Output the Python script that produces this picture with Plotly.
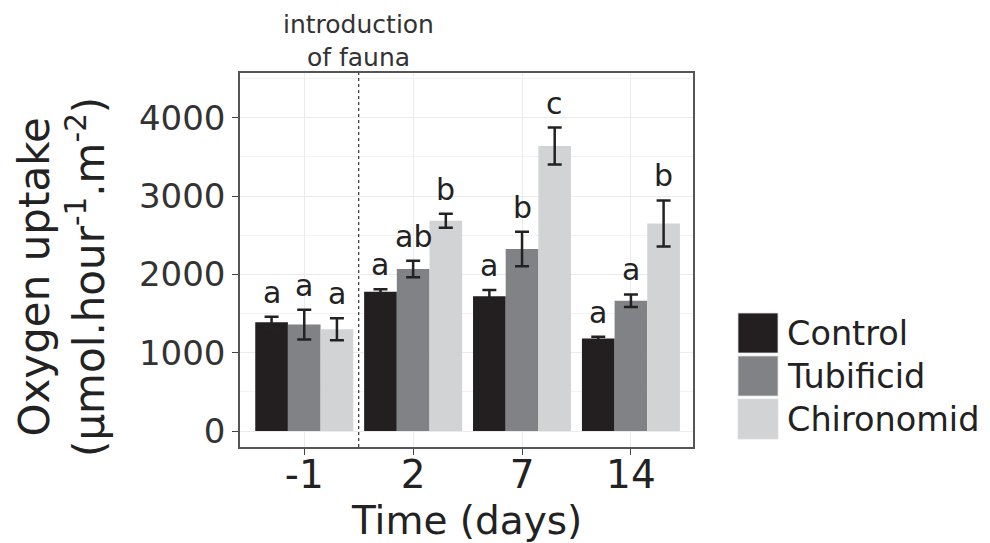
import plotly.graph_objects as go

days = ["-1", "2", "7", "14"]
groups = ["Control", "Tubificid", "Chironomid"]
means = {
    "Control":    [1390, 1780, 1720, 1180],
    "Tubificid":  [1360, 2070, 2325, 1665],
    "Chironomid": [1300, 2685, 3640, 2650],
}
errors = {
    "Control":    [70, 30, 80, 25],
    "Tubificid":  [190, 105, 220, 80],
    "Chironomid": [140, 90, 235, 295],
}
letters = {
    "Control":    ["a", "a", "a", "a"],
    "Tubificid":  ["a", "ab", "b", "a"],
    "Chironomid": ["a", "b", "c", "b"],
}
colors = {"Control": "#231F20", "Tubificid": "#808285", "Chironomid": "#D1D3D4"}

FONT = "DejaVu Sans"
fig = go.Figure()
for g in groups:
    fig.add_trace(go.Bar(
        x=days, y=means[g], name=g, marker=dict(color=colors[g], line=dict(width=0)),
        error_y=dict(type="data", array=errors[g], visible=True, color="#222222",
                     thickness=2.5, width=7),
        showlegend=False,
    ))

# significance letters
offsets = [-1, 0, 1]
bar_w = 0.3
annotations = []
for k, g in enumerate(groups):
    for i, d in enumerate(days):
        annotations.append(dict(
            x=i + offsets[k] * bar_w, xref="x", y=means[g][i] + errors[g][i], yref="y",
            text=letters[g][i], showarrow=False, yanchor="bottom", yshift=5,
            font=dict(family=FONT, size=30, color="#222222"),
        ))

# introduction of fauna label
annotations.append(dict(
    x=0.5, xref="x", y=1, yref="paper", text="introduction<br>of fauna",
    showarrow=False, yanchor="bottom", yshift=-1,
    font=dict(family=FONT, size=25, color="#333333"),
))

# panel geometry in page pixels (for placing legend / titles)
W = 453.0
H = 374.0
def px_x(p):
    return (p - 240) / W
def px_y(p):
    return (447 - p) / H

# y-axis title
annotations.append(dict(
    x=px_x(62), xref="paper", y=px_y(277), yref="paper",
    text="Oxygen uptake<br>(µmol.hour<sup>-1</sup>.m<sup>-2</sup>)",
    textangle=-90, showarrow=False, xanchor="center", yanchor="middle",
    font=dict(family=FONT, size=42, color="#222222"),
))
# x-axis title
annotations.append(dict(
    x=0.5, xref="paper", y=px_y(520), yref="paper",
    text="Time (days)", showarrow=False, xanchor="center", yanchor="middle",
    font=dict(family=FONT, size=39, color="#222222"),
))

shapes = [dict(type="line", xref="x", yref="paper", x0=0.5, x1=0.5, y0=0, y1=1,
               line=dict(color="#333333", width=1.2, dash="dot"))]
key_tops = [313, 356, 399]
for g, top in zip(groups, key_tops):
    shapes.append(dict(type="rect", xref="paper", yref="paper",
                       x0=px_x(738), x1=px_x(778), y0=px_y(top + 40), y1=px_y(top),
                       fillcolor=colors[g], line=dict(color="#e0e0e0", width=0.8)))
    annotations.append(dict(x=px_x(785), xref="paper", y=px_y(top + 20), yref="paper",
                            text=g, showarrow=False, xanchor="left", yanchor="middle",
                            font=dict(family=FONT, size=33.5, color="#222222")))

fig.update_layout(
    width=990, height=543,
    margin=dict(l=232, r=305, t=65, b=104),
    paper_bgcolor="white", plot_bgcolor="white",
    barmode="group", bargap=0.1, bargroupgap=0,
    shapes=shapes, annotations=annotations,
    font=dict(family=FONT),
)
fig.update_xaxes(
    range=[-0.59, 3.57], showgrid=True, gridcolor="#EBEBEB", gridwidth=1.2,
    showline=True, mirror=True, linecolor="#555555", linewidth=1.5,
    ticks="outside", ticklen=6, tickcolor="#444444", tickwidth=1.2,
    ticklabelstandoff=-14,
    tickfont=dict(family=FONT, size=39, color="#222222"),
    automargin=False,
)
fig.update_yaxes(
    range=[-204, 4572], tickvals=[0, 1000, 2000, 3000, 4000],
    showgrid=True, gridcolor="#EBEBEB", gridwidth=1.2,
    minor=dict(tickvals=[500, 1500, 2500, 3500, 4500], showgrid=True, gridcolor="#F2F2F2", gridwidth=1),
    showline=True, mirror=True, linecolor="#555555", linewidth=1.5,
    ticks="outside", ticklen=6, tickcolor="#444444", tickwidth=1.2,
    tickfont=dict(family=FONT, size=34, color="#333333"),
    zeroline=False, automargin=False,
)

fig.write_html("out.html")
